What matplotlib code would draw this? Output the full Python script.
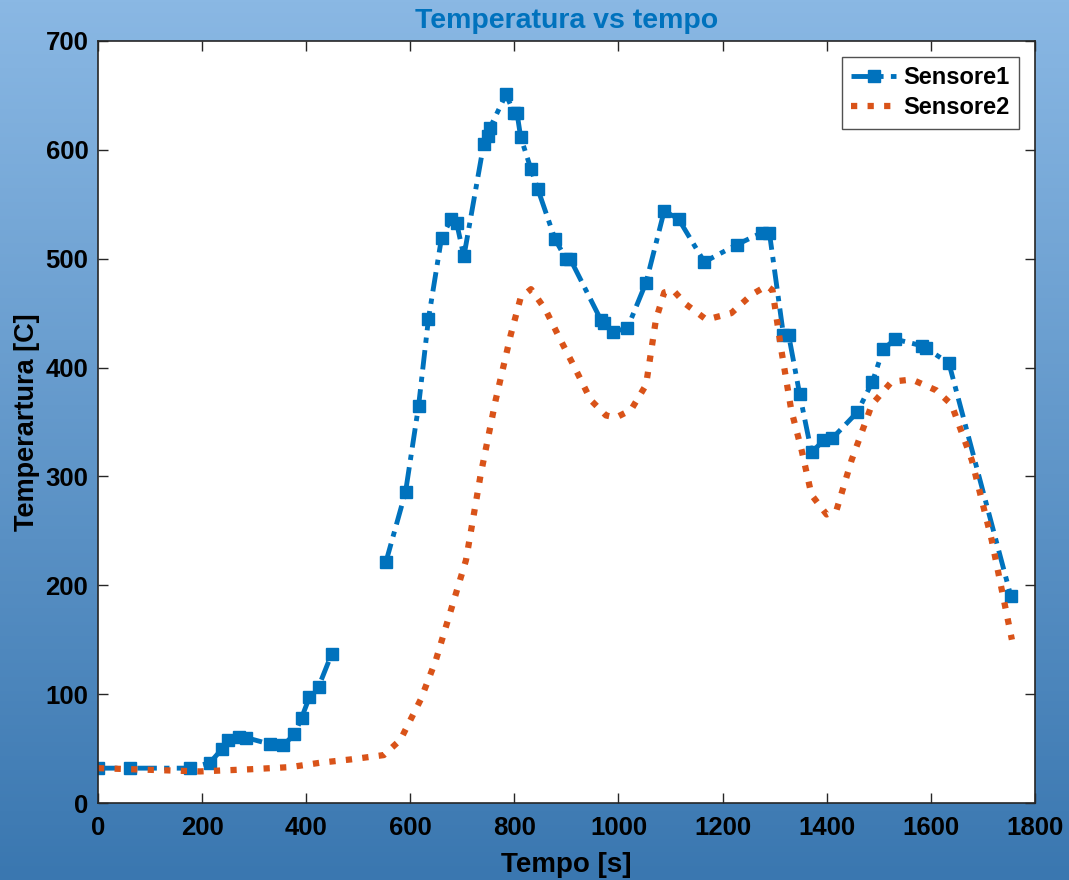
import numpy as np
import matplotlib
matplotlib.use("Agg")
import matplotlib.pyplot as plt
from matplotlib.colors import LinearSegmentedColormap

# Sensore1 (gap between the two segments marked with nan)
t1 = [0, 62, 177, 215, 239, 250, 270, 285, 331, 356, 377, 391, 406, 424, 449,
      np.nan,
      553, 591, 616, 635, 660, 678, 689, 703, 741, 749, 753, 784, 799, 805,
      812, 832, 845, 878, 899, 907, 966, 972, 990, 1017, 1053, 1088, 1116,
      1165, 1228, 1276, 1290, 1317, 1327, 1348, 1371, 1394, 1411, 1459, 1488,
      1509, 1532, 1583, 1590, 1635, 1754]
temp1 = [32, 32, 32, 37, 50, 58, 61, 60, 54, 53, 63, 78, 97, 107, 137,
         np.nan,
         221, 286, 365, 445, 519, 536, 533, 502, 605, 613, 620, 651, 634, 634,
         612, 582, 564, 518, 500, 500, 444, 441, 433, 436, 478, 544, 536,
         497, 513, 524, 524, 430, 430, 376, 322, 333, 335, 359, 387,
         417, 426, 420, 418, 404, 190]

# Sensore2
t2 = [0, 196, 293, 370, 427, 485, 549, 581, 620, 649, 678, 707, 735, 764,
      793, 812, 832, 860, 889, 918, 947, 976, 995, 1024, 1053, 1072, 1088,
      1105, 1130, 1169, 1217, 1256, 1285, 1296, 1313, 1332, 1352, 1371, 1400,
      1419, 1448, 1487, 1525, 1564, 1611, 1640, 1679, 1717, 1756]
temp2 = [32, 29, 31, 33, 37, 40, 44, 58, 95, 131, 177, 223, 301, 370,
         430, 464, 472, 453, 425, 398, 370, 356, 354, 361, 384, 444, 469,
         471, 458, 444, 450, 467, 475, 471, 416, 361, 324, 283, 265,
         269, 315, 366, 387, 389, 379, 366, 315, 242, 150]

xticks = list(range(0, 1801, 200))
yticks = list(range(0, 701, 100))

plt.rcParams['font.family'] = ['Liberation Sans', 'DejaVu Sans']
plt.rcParams['font.weight'] = 'bold'

fig = plt.figure(figsize=(10.69, 8.8), dpi=100)

# gradient background
bg = fig.add_axes([0, 0, 1, 1], zorder=0)
cmap = LinearSegmentedColormap.from_list('bg', ['#8AB8E4', '#3A77B0'])
bg.imshow(np.linspace(0, 1, 256).reshape(-1, 1), aspect='auto', cmap=cmap,
          extent=[0, 1, 0, 1])
bg.axis('off')

ax = fig.add_axes([0.0917, 0.0875, 0.8763, 0.866], zorder=1)
ax.set_facecolor('white')

ax.plot(t1, temp1, color='#0072BD', linestyle='-.', linewidth=3.5,
        dashes=(4, 1.5, 1.1, 1.5), marker='s', markersize=8.5,
        label='Sensore1')
ax.plot(t2, temp2, color='#D95319', linestyle=':', linewidth=4.5,
        label='Sensore2')

ax.set_xlim(0, 1800)
ax.set_ylim(0, 700)
ax.set_xticks(xticks)
ax.set_yticks(yticks)
ax.tick_params(direction='in', top=True, right=True, length=7, width=1,
               labelsize=18.5, color='#262626')
ax.tick_params(axis='x', pad=9)
ax.tick_params(axis='y', pad=7)
for lab in ax.get_xticklabels() + ax.get_yticklabels():
    lab.set_fontweight('bold')
for sp in ax.spines.values():
    sp.set_color('#262626')
    sp.set_linewidth(1.2)

ax.set_xlabel('Tempo [s]', fontsize=20, fontweight='bold', labelpad=9)
ax.set_ylabel('Temperartura [C]', fontsize=19.5, fontweight='bold',
              labelpad=4)
ax.set_title('Temperatura vs tempo', fontsize=20.5, fontweight='bold',
             color='#0072BD', pad=9)

leg = ax.legend(loc='upper right', fontsize=17, frameon=True, fancybox=False,
                edgecolor='#262626', handlelength=1.9, borderpad=0.4,
                labelspacing=0.3, handletextpad=0.3, borderaxespad=0,
                bbox_to_anchor=(0.983, 0.979))
leg.get_frame().set_linewidth(1.0)
for txt in leg.get_texts():
    txt.set_fontweight('bold')

fig.savefig('out.png', dpi=100)
